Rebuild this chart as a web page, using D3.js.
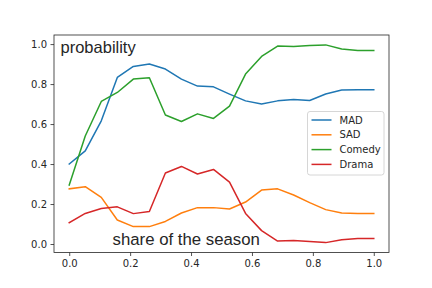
<html>
<head>
    <meta charset="utf-8">
    <script src="https://d3js.org/d3.v7.min.js"></script>
    <style>
      body { margin: 0; background: white; }
      text { font-family: "DejaVu Sans", sans-serif; }
    </style>
</head>
<body>
<div id="my_dataviz"></div>
<script>
    // share of the season (20 points) and probability per genre
    const share = d3.range(20).map(i => i / 19)
    const mad    = [0.400, 0.466, 0.616, 0.833, 0.888, 0.900, 0.875, 0.825, 0.790, 0.786, 0.750, 0.716, 0.700, 0.716, 0.723, 0.718, 0.750, 0.770, 0.772, 0.772]
    const sad    = [0.276, 0.287, 0.233, 0.120, 0.087, 0.087, 0.113, 0.155, 0.182, 0.182, 0.175, 0.210, 0.270, 0.276, 0.245, 0.207, 0.172, 0.155, 0.152, 0.152]
    const comedy = [0.295, 0.540, 0.713, 0.758, 0.825, 0.832, 0.645, 0.613, 0.651, 0.628, 0.690, 0.850, 0.938, 0.990, 0.988, 0.993, 0.996, 0.975, 0.968, 0.968]
    const drama  = [0.107, 0.153, 0.178, 0.186, 0.152, 0.163, 0.355, 0.388, 0.350, 0.373, 0.310, 0.153, 0.067, 0.015, 0.017, 0.012, 0.007, 0.021, 0.028, 0.028]
    const names = ["MAD", "SAD", "Comedy", "Drama"]
    const colors = ["#1f77b4", "#ff7f0e", "#2ca02c", "#d62728"]
    const xTicks = [0, 0.2, 0.4, 0.6, 0.8, 1.0]
    const yTicks = [0, 0.2, 0.4, 0.6, 0.8, 1.0]

    const series = [mad, sad, comedy, drama]

    let margin = {top: 35, right: 43, bottom: 35.5, left: 54},
      width = 432 - margin.left - margin.right,
      height = 288 - margin.top - margin.bottom;

    const svg = d3.select("#my_dataviz")
    .append("svg")
      .attr("width", 432)
      .attr("height", 288)
    .append("g")
      .attr("transform", `translate(${margin.left}, ${margin.top})`);

    // matplotlib style 5% margins
    const allY = series.flat()
    const ymin = d3.min(allY), ymax = d3.max(allY)
    const ypad = (ymax - ymin) * 0.05

    const x = d3.scaleLinear()
      .domain([-0.05, 1.05])
      .range([0, width])
    const y = d3.scaleLinear()
      .domain([ymin - ypad, ymax + ypad])
      .range([height, 0])

    const xAxis = svg.append("g")
      .attr("transform", `translate(0, ${height})`)
      .call(d3.axisBottom(x).tickValues(xTicks).tickFormat(d3.format(".1f")).tickSize(3.5).tickPadding(3.5))
    const yAxis = svg.append("g")
      .call(d3.axisLeft(y).tickValues(yTicks).tickFormat(d3.format(".1f")).tickSize(3.5).tickPadding(3.5))
    for (const a of [xAxis, yAxis]) {
      a.select(".domain").remove()
      a.selectAll("text").style("font-size", "10px").style("fill", "#262626").style("font-family", "DejaVu Sans")
      a.selectAll("line").style("stroke", "#262626").style("stroke-width", 0.8)
    }

    const line = d3.line()
      .x((d, i) => x(share[i]))
      .y(d => y(d))

    series.forEach(function(s, k) {
      svg.append("path")
        .datum(s)
        .attr("d", line)
        .style("fill", "none")
        .style("stroke", colors[k])
        .style("stroke-width", 1.5)
        .style("stroke-linejoin", "round")
        .style("stroke-linecap", "square")
    })

    // frame
    svg.append("rect")
      .attr("width", width)
      .attr("height", height)
      .style("fill", "none")
      .style("stroke", "#262626")
      .style("stroke-width", 0.8)

    // annotations
    svg.append("text")
      .attr("x", 6.5)
      .attr("y", 17.5)
      .style("font-family", "Liberation Sans, Arial, sans-serif")
      .style("font-size", "16.5px")
      .style("fill", "#262626")
      .text("probability")
    svg.append("text")
      .attr("x", 58.5)
      .attr("y", 210)
      .style("font-family", "Liberation Sans, Arial, sans-serif")
      .style("font-size", "16.8px")
      .style("fill", "#262626")
      .text("share of the season")

    // legend
    const lg = svg.append("g").attr("transform", `translate(${307.5 - margin.left}, ${111.5 - margin.top})`)
    lg.append("rect")
      .attr("width", 76.5)
      .attr("height", 63.5)
      .attr("rx", 2.5)
      .style("fill", "white")
      .style("fill-opacity", 0.8)
      .style("stroke", "#cccccc")
      .style("stroke-width", 0.8)
    names.forEach(function(n, k) {
      const yy = 8.5 + k * 14.8
      lg.append("line")
        .attr("x1", 4).attr("x2", 24)
        .attr("y1", yy).attr("y2", yy)
        .style("stroke", colors[k])
        .style("stroke-width", 1.5)
      lg.append("text")
        .attr("x", 32)
        .attr("y", yy + 3.6)
        .style("font-size", "10px")
        .style("fill", "#262626")
        .text(n)
    })
</script>
</body>
</html>
